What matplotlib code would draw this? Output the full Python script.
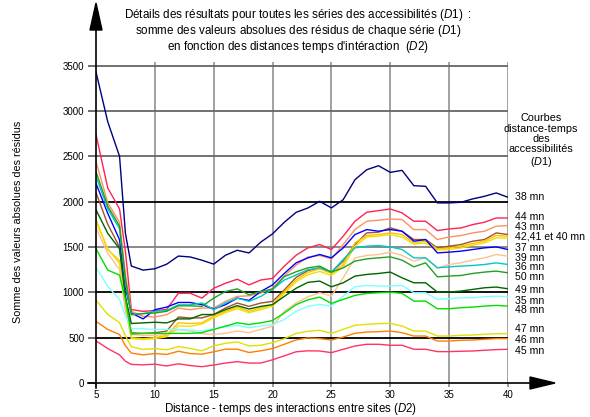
import matplotlib
matplotlib.use("Agg")
import matplotlib.pyplot as plt
from matplotlib.lines import Line2D
from matplotlib.patches import Polygon

plt.rcParams['font.family'] = ['Liberation Sans', 'DejaVu Sans']
plt.rcParams['mathtext.fontset'] = 'custom'
plt.rcParams['mathtext.rm'] = 'Liberation Sans'
plt.rcParams['mathtext.it'] = 'Liberation Sans:italic'

# distance-temps des interactions (D2)
dist = [5, 6, 7, 7.5, 8, 9, 10, 11, 12, 13, 14, 15, 16, 17, 18, 19, 20, 21, 22,
        23, 24, 25, 26, 27, 28, 29, 30, 31, 32, 33, 34, 35, 36, 37, 38, 39, 40]

s38 = [3430, 2880, 2500, 1650, 1290, 1245, 1260, 1310, 1400, 1390, 1354, 1311, 1409,
       1464, 1434, 1554, 1645, 1773, 1882, 1930, 2004, 1931, 2022, 2242, 2352, 2396,
       2323, 2345, 2176, 2169, 1986, 1986, 1993, 2030, 2059, 2096, 2048]
s44 = [2740, 2150, 1920, 1450, 810, 790, 800, 810, 990, 990, 936, 1045, 1100, 1144,
       1082, 1136, 1154, 1289, 1409, 1490, 1527, 1472, 1619, 1784, 1883, 1901, 1919,
       1876, 1784, 1784, 1681, 1699, 1710, 1747, 1773, 1820, 1820]
s43 = [2440, 1990, 1770, 1200, 790, 735, 728, 754, 826, 808, 827, 827, 900, 955, 962,
       991, 1045, 1180, 1300, 1390, 1406, 1369, 1527, 1692, 1784, 1795, 1809, 1802,
       1692, 1692, 1582, 1611, 1626, 1655, 1674, 1729, 1736]
s42 = [2100, 1750, 1500, 950, 554, 547, 554, 572, 728, 717, 718, 755, 827, 882, 845,
       882, 900, 1027, 1165, 1240, 1270, 1223, 1344, 1527, 1655, 1663, 1711, 1674,
       1582, 1582, 1490, 1509, 1527, 1564, 1582, 1655, 1637]
s41 = [1800, 1470, 1350, 850, 500, 489, 500, 525, 663, 656, 664, 736, 791, 838, 791,
       827, 864, 1009, 1136, 1220, 1259, 1208, 1307, 1545, 1626, 1637, 1655, 1637,
       1545, 1564, 1479, 1490, 1509, 1538, 1564, 1626, 1619]
s40 = [1780, 1480, 1320, 820, 490, 480, 490, 510, 630, 625, 650, 720, 775, 820, 775,
       810, 845, 990, 1115, 1195, 1230, 1186, 1280, 1509, 1610, 1620, 1637, 1610,
       1530, 1545, 1465, 1472, 1490, 1520, 1545, 1600, 1600]
s37 = [2200, 1870, 1580, 1050, 772, 707, 808, 837, 888, 888, 864, 816, 864, 936, 911,
       1009, 1082, 1209, 1325, 1380, 1417, 1380, 1490, 1637, 1692, 1674, 1692, 1674,
       1564, 1582, 1435, 1443, 1454, 1472, 1490, 1501, 1472]
s39 = [1710, 1430, 1250, 800, 536, 525, 525, 536, 590, 572, 544, 536, 547, 573, 555,
       591, 627, 791, 882, 950, 995, 958, 1160, 1380, 1406, 1417, 1443, 1406, 1344,
       1380, 1270, 1307, 1325, 1355, 1380, 1417, 1399]
s36 = [2280, 1920, 1700, 1100, 754, 765, 790, 800, 862, 862, 882, 809, 882, 936, 900,
       955, 1034, 1136, 1191, 1250, 1270, 1223, 1362, 1490, 1509, 1516, 1501, 1472,
       1380, 1380, 1270, 1281, 1289, 1296, 1307, 1325, 1307]
s50 = [2330, 1950, 1730, 1150, 754, 765, 772, 790, 851, 851, 845, 936, 1009, 1038, 973,
       1009, 1034, 1173, 1227, 1270, 1289, 1223, 1270, 1344, 1369, 1380, 1391, 1355,
       1281, 1325, 1171, 1179, 1186, 1208, 1223, 1234, 1215]
s49 = [1910, 1650, 1480, 950, 656, 663, 670, 663, 707, 707, 755, 755, 809, 853, 816,
       845, 864, 955, 1045, 1110, 1124, 1061, 1105, 1179, 1197, 1208, 1223, 1160,
       1105, 1105, 1003, 1003, 1014, 1032, 1050, 1058, 1039]
s35 = [1275, 1065, 920, 740, 600, 598, 590, 590, 590, 583, 573, 598, 620, 635, 609,
       627, 645, 700, 791, 845, 867, 848, 958, 1061, 1076, 1069, 1069, 1076, 995, 995,
       922, 929, 940, 940, 951, 958, 951]
s48 = [1480, 1245, 1190, 920, 540, 547, 547, 547, 547, 547, 555, 591, 627, 664, 645,
       664, 689, 773, 864, 918, 947, 878, 922, 966, 988, 995, 1002, 988, 903, 903, 819,
       819, 830, 837, 848, 856, 848]
s47 = [915, 755, 665, 520, 400, 370, 380, 366, 402, 380, 355, 409, 438, 453, 409, 416,
       445, 489, 547, 570, 581, 548, 592, 636, 647, 654, 658, 628, 573, 573, 518, 518,
       526, 529, 537, 544, 544]
s46 = [680, 590, 535, 410, 330, 310, 325, 315, 350, 325, 318, 344, 373, 373, 336, 355,
       380, 427, 475, 497, 489, 474, 507, 548, 562, 566, 573, 555, 518, 518, 463, 463,
       471, 474, 482, 489, 489]
s45 = [465, 380, 310, 240, 205, 200, 208, 188, 212, 192, 180, 198, 220, 235, 220, 220,
       256, 300, 344, 355, 353, 335, 372, 408, 427, 427, 416, 416, 372, 372, 346, 346,
       350, 353, 361, 368, 372]

series = [
    (s38, '#000080'), (s44, '#FF2255'), (s43, '#FF9060'), (s42, '#A0522D'),
    (s41, '#FFC000'), (s40, '#F0E000'), (s37, '#0000FF'), (s39, '#FFC090'),
    (s36, '#00C8C8'), (s50, '#22A022'), (s49, '#006400'), (s35, '#80FFFF'),
    (s48, '#00DD00'), (s47, '#E0E000'), (s46, '#FF8000'), (s45, '#FF3366'),
]

# labels on the right: text and value where it sits
end_labels = ['38 mn', '44 mn', '43 mn', '42,41 et 40 mn', '37 mn', '39 mn', '36 mn',
              '50 mn', '49 mn', '35 mn', '48 mn', '47 mn', '46 mn', '45 mn']
end_label_y = [2053, 1830, 1722, 1615, 1490, 1375, 1278, 1170, 1027, 905, 800, 596,
               475, 353]

W, H = 590, 417
fig = plt.figure(figsize=(W / 100, H / 100), dpi=100)


def fx(px):
    return px / W


def fy(py):
    return 1 - py / H


ax = fig.add_axes([fx(96), fy(383), fx(508) - fx(96), fy(62) - fy(383)])
ax.set_xlim(5, 40)
ax.set_ylim(0, 3540)
for sp in ax.spines.values():
    sp.set_visible(False)

# grid
for v in range(10, 41, 5):
    ax.axvline(v, color='#9a9a9a', lw=1.3, zorder=1)
hcol = {3500: '#666666', 3000: '#666666', 2500: '#666666', 2000: 'black',
        1500: '#808080', 1000: 'black', 500: 'black'}
for v, c in hcol.items():
    ax.axhline(v, color=c, lw=1.3, zorder=1)

for vals, col in series:
    ax.plot(dist, vals, color=col, lw=1.0, zorder=3)

ax.set_xticks(range(5, 41, 5))
ax.set_yticks(range(0, 3501, 500))
ax.tick_params(axis='y', length=5.5, width=1.2, color='#555555', labelsize=7,
               pad=3, labelcolor='black')
ax.tick_params(axis='x', length=3, width=1.2, color='#888888', labelsize=7,
               pad=2, labelcolor='black')

for txt, v in zip(end_labels, end_label_y):
    ax.annotate(txt, xy=(40, v), xytext=(5, 0), textcoords='offset points',
                ha='left', va='center', fontsize=7.6, annotation_clip=False)

# axes with arrows
fig.add_artist(Line2D([fx(96), fx(96)], [fy(388), fy(28)], color='black', lw=1.2,
                      transform=fig.transFigure))
fig.add_artist(Polygon([[fx(90), fy(30)], [fx(102), fy(30)], [fx(96), fy(3)]],
                       closed=True, color='black', transform=fig.transFigure))
fig.add_artist(Line2D([fx(88), fx(532)], [fy(383), fy(383)], color='black', lw=1.2,
                      transform=fig.transFigure))
fig.add_artist(Polygon([[fx(530), fy(377)], [fx(530), fy(389)], [fx(555), fy(383)]],
                       closed=True, color='black', transform=fig.transFigure))

# titles
title = ("Détails des résultats pour toutes les séries des accessibilités $\\mathit{(D1)\\ :}$\n"
         "somme des valeurs absolues des résidus de chaque série $\\mathit{(D1)}$\n"
         "en fonction des distances temps d'intéraction  $\\mathit{(D2)}$")
fig.text(fx(298), fy(31), title, ha='center', va='center', fontsize=8.4,
         linespacing=0.98, multialignment='center')
fig.text(fx(291), fy(409), r"Distance - temps des interactions entre sites $\mathit{(D2)}$",
         ha='center', va='center', fontsize=8.3)
fig.text(fx(18), fy(222), "Somme des valeurs absolues des résidus", rotation=90,
         ha='center', va='center', fontsize=7.8)
fig.text(fx(541), fy(141), "Courbes\ndistance-temps\ndes\naccessibilités\n$\\mathit{(D1)}$",
         ha='center', va='center', fontsize=7.8, linespacing=1.05, multialignment='center')

fig.savefig('out.png', dpi=100)
